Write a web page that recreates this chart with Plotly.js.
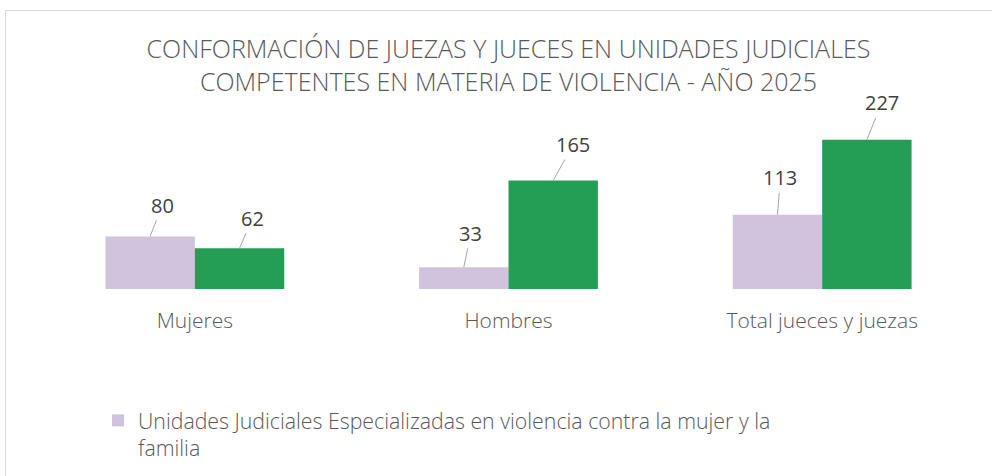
<!DOCTYPE html>
<html>
<head>
<meta charset="utf-8">
<script src="https://cdn.plot.ly/plotly-3.0.1.min.js"></script>
<style>
  html, body { margin: 0; padding: 0; background: #fff; }
  #wrap { position: relative; width: 992px; height: 476px; overflow: hidden; }
  #chart { position: absolute; left: 0; top: 0; width: 992px; height: 476px; }
  #frame { position: absolute; left: 5px; top: 10px; width: 1010px; height: 500px;
           border: 1px solid #d9d9d9; pointer-events: none; }
</style>
</head>
<body>
<div id="wrap">
  <div id="chart"></div>
  <div id="frame"></div>
</div>
<script>
// ---- data ----
const categories = ['Mujeres', 'Hombres', 'Total jueces y juezas'];
const especializadas = [80, 33, 113];
const otrasUnidades = [62, 165, 227];
const seriesNames = [
  'Unidades Judiciales Especializadas en violencia contra la mujer y la<br>familia',
  'Otras Unidades Judiciales competentes en materia de violencia'
];
const titleText = 'CONFORMACIÓN DE JUEZAS Y JUECES EN UNIDADES JUDICIALES<br>COMPETENTES EN MATERIA DE VIOLENCIA - AÑO 2025';

// ---- style ----
const colors = ['#CFC3DD', '#249D55'];
const bargap = 0.43;
// label offsets (px) from bar top to label centre
const offsetsA = [[12, -31], [7, -34], [3, -37]];
const offsetsB = [[13, -30], [20, -36], [15, -37]];
const fontFam = '"Open Sans", "Noto Sans", sans-serif';

const traces = [
  { type: 'bar', x: categories, y: especializadas, name: seriesNames[0],
    marker: { color: colors[0] }, hoverinfo: 'x+y' },
  { type: 'bar', x: categories, y: otrasUnidades, name: seriesNames[1],
    marker: { color: colors[1] }, showlegend: false, hoverinfo: 'x+y' }
];

const half = (1 - bargap) / 4;
const annotations = [];
[[especializadas, offsetsA, -half], [otrasUnidades, offsetsB, half]].forEach(([vals, offs, dx]) => {
  vals.forEach((v, i) => {
    annotations.push({
      x: i + dx, y: v, xref: 'x', yref: 'y',
      text: String(v), showarrow: true, arrowhead: 0, arrowwidth: 1,
      arrowcolor: '#A6A6A6', standoff: 0, startstandoff: 0,
      ax: offs[i][0], ay: offs[i][1],
      font: { family: fontFam, size: 20, color: '#404040' }
    });
  });
});

const layout = {
  width: 992, height: 476,
  margin: { l: 37.5, r: 13, t: 97, b: 187 },
  paper_bgcolor: '#ffffff', plot_bgcolor: '#ffffff',
  barmode: 'group', bargap: bargap, bargroupgap: 0,
  title: { text: titleText, x: 0.5, xref: 'paper', y: 1 - 58 / 476, yref: 'container',
           xanchor: 'center', yanchor: 'middle',
           font: { family: fontFam, size: 25, color: '#595959', weight: 300 } },
  xaxis: { type: 'category', showgrid: false, zeroline: false, showline: false,
           ticks: '', ticklabelstandoff: 17,
           tickfont: { family: fontFam, size: 21, color: '#595959', weight: 300 } },
  yaxis: { range: [0, 292], visible: false, showgrid: false, zeroline: false },
  showlegend: true,
  legend: { orientation: 'h', xref: 'container', yref: 'container',
            x: 98 / 992, y: 1 - 400 / 476, xanchor: 'left', yanchor: 'top',
            valign: 'top', traceorder: 'normal',
            font: { family: fontFam, size: 21.3, color: '#595959', weight: 300 } },
  annotations: annotations
};

Plotly.newPlot('chart', traces, layout, { displayModeBar: false, staticPlot: true });
</script>
</body>
</html>
